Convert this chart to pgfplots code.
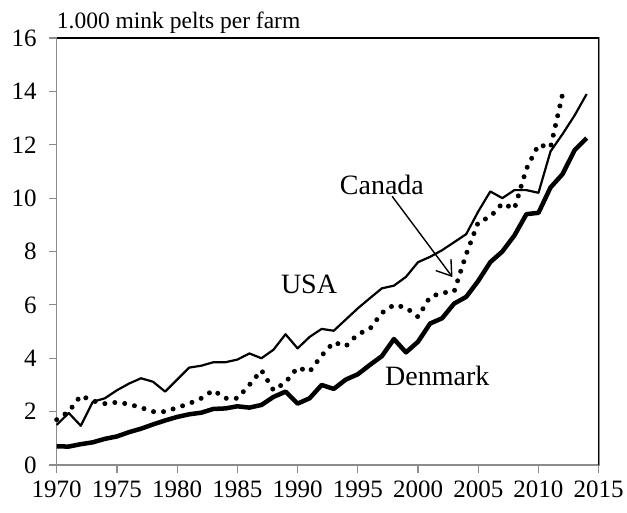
\documentclass[border=0pt]{standalone}
\usepackage{fontspec}
\setmainfont{Liberation Serif}
\usepackage{pgfplots}
\pgfplotsset{compat=1.18}
\usetikzlibrary{arrows.meta}
\newcommand{\tfont}{\fontsize{25}{27}\selectfont}
\begin{document}
\begin{tikzpicture}
\begin{axis}[
  scale only axis, width=542pt, height=427pt,
  xmin=1970, xmax=2015, ymin=0, ymax=16,
  xtick={1970,1975,...,2015}, ytick={0,2,...,16},
  /pgf/number format/assume math mode=true,
  xticklabel={\mbox{\tfont\pgfmathprintnumber[1000 sep={}]{\tick}}},
  yticklabel={\mbox{\tfont\pgfmathprintnumber{\tick}}},
  xticklabel style={font=\tfont, yshift=-5pt},
  yticklabel style={font=\tfont, xshift=-9pt},
  tick align=outside, major tick length=7.5pt,
  xtick pos=bottom, ytick pos=left,
  tick style={draw=gray!90, line width=1.2pt},
  axis line style={draw=gray!90, line width=1.6pt},
  clip=false,
]
\addplot[black, line width=2.2pt, line join=round] coordinates {
(1970,1.5)(1971,1.95)(1972,1.47)(1973,2.37)(1974,2.5)(1975,2.8)(1976,3.05)(1977,3.25)(1978,3.12)(1979,2.75)
(1980,3.2)(1981,3.65)(1982,3.72)(1983,3.85)(1984,3.85)(1985,3.95)(1986,4.18)(1987,4.0)(1988,4.32)(1989,4.9)
(1990,4.37)(1991,4.8)(1992,5.1)(1993,5.03)(1994,5.45)(1995,5.87)(1996,6.25)(1997,6.62)(1998,6.72)(1999,7.05)
(2000,7.6)(2001,7.8)(2002,8.05)(2003,8.35)(2004,8.65)(2005,9.5)(2006,10.25)(2007,10.0)(2008,10.3)(2009,10.3)
(2010,10.2)(2011,11.75)(2012,12.4)(2013,13.1)(2014,13.9)};
\addplot[black, line width=4.5pt, line join=round] coordinates {
(1970,0.7)(1971,0.69)(1972,0.78)(1973,0.85)(1974,0.98)(1975,1.07)(1976,1.23)(1977,1.36)(1978,1.52)(1979,1.67)
(1980,1.8)(1981,1.9)(1982,1.96)(1983,2.1)(1984,2.12)(1985,2.2)(1986,2.15)(1987,2.25)(1988,2.55)(1989,2.75)
(1990,2.3)(1991,2.5)(1992,3.0)(1993,2.85)(1994,3.2)(1995,3.4)(1996,3.75)(1997,4.08)(1998,4.72)(1999,4.22)
(2000,4.62)(2001,5.3)(2002,5.5)(2003,6.05)(2004,6.3)(2005,6.9)(2006,7.6)(2007,8.0)(2008,8.6)(2009,9.4)
(2010,9.45)(2011,10.4)(2012,10.9)(2013,11.8)(2014,12.25)};
\addplot[black, line width=5pt, line cap=round, dash pattern=on 0pt off 10pt] coordinates {
(1970,1.7)(1971,2.0)(1972,2.6)(1973,2.4)(1974,2.3)(1975,2.35)(1976,2.28)(1977,2.15)(1978,2.0)(1979,2.0)
(1980,2.15)(1981,2.3)(1982,2.5)(1983,2.8)(1984,2.5)(1985,2.5)(1986,3.0)(1987,3.55)(1988,2.8)(1989,3.1)
(1990,3.65)(1991,3.5)(1992,4.1)(1993,4.6)(1994,4.45)(1995,4.9)(1996,5.1)(1997,5.7)(1998,6.0)(1999,5.9)
(2000,5.55)(2001,6.3)(2002,6.45)(2003,6.5)(2004,7.9)(2005,9.1)(2006,9.3)(2007,9.8)(2008,9.6)(2009,11.1)
(2010,12.0)(2011,11.9)(2012,13.9)};
\draw[black, line width=1.2pt] (rel axis cs:0,1) -- (rel axis cs:1,1) -- (rel axis cs:1,0);
\node[font=\fontsize{28}{30}\selectfont] at (axis cs:1997.0,10.5) {Canada};
\node[font=\fontsize{28}{30}\selectfont] at (axis cs:1990.95,6.75) {USA};
\node[font=\fontsize{28}{30}\selectfont] at (axis cs:2001.6,3.33) {Denmark};
\draw[black, line width=1.4pt, -{Straight Barb[length=14pt,width=19pt]}] (axis cs:1997.85,10.07) -- (axis cs:2002.86,7.04);
\node[anchor=base west, inner sep=0pt, font=\fontsize{23.5}{26}\selectfont] at ([yshift=9pt]rel axis cs:0,1) {1.000 mink pelts per farm};
\end{axis}
\pgfresetboundingbox
\path[use as bounding box] (-56.7pt,-47pt) rectangle (570.3pt,465pt);
\end{tikzpicture}
\end{document}
